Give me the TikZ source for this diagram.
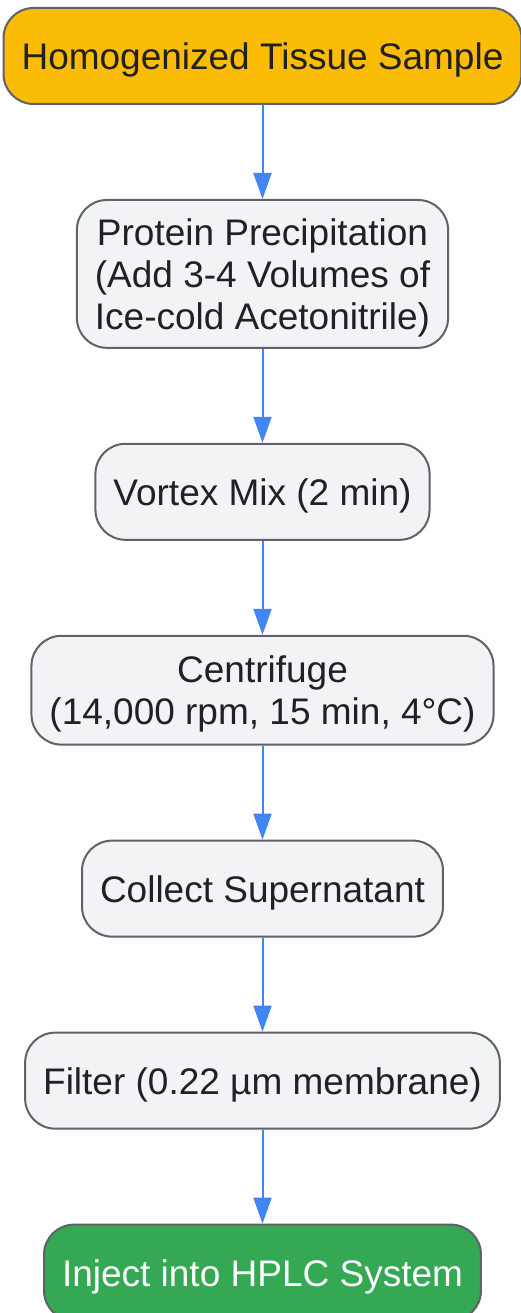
\documentclass[tikz,border=0pt]{standalone}
\usepackage{fontspec}
\setmainfont{Liberation Sans}
\usepackage{xcolor}
\usetikzlibrary{positioning, arrows.meta}

\definecolor{stepfill}{HTML}{F1F3F4}
\definecolor{stepline}{HTML}{5F6368}
\definecolor{starty}{HTML}{FBBC05}
\definecolor{endg}{HTML}{34A853}
\definecolor{arrowb}{HTML}{4285F4}
\definecolor{txt}{HTML}{202124}

\begin{document}
\begin{tikzpicture}[-{Triangle[length=26pt,width=18pt]},auto,node distance=94pt,
                    main node/.style={rectangle,rounded corners=30pt,draw=stepline,line width=2pt,
                      fill=stepfill,text=txt,align=center,inner xsep=18pt,inner ysep=20pt,
                      text depth=0pt,minimum height=96pt,font=\fontsize{37}{42}\selectfont}]

  \useasboundingbox (0,0) rectangle (521pt,-1313pt);

  \node[main node,fill=starty] (1) at (262.5pt,-56pt) {Homogenized Tissue Sample};
  \node[main node,inner ysep=18.5pt] (2) [below=of 1] {Protein Precipitation\\(Add 3-4 Volumes of\\Ice-cold Acetonitrile)};
  \node[main node] (3) [below=of 2] {Vortex Mix (2 min)};
  \node[main node] (4) [below=of 3] {Centrifuge\\(14,000 rpm, 15 min, 4°C)};
  \node[main node] (5) [below=of 4] {Collect Supernatant};
  \node[main node] (6) [below=of 5] {Filter (0.22 µm membrane)};
  \node[main node,fill=endg,text=white] (7) [below=of 6] {Inject into HPLC System};

  \path[draw=arrowb,fill=arrowb,line width=2pt]
    (1) edge (2)
    (2) edge (3)
    (3) edge (4)
    (4) edge (5)
    (5) edge (6)
    (6) edge (7)
    ;
\end{tikzpicture}
\end{document}
